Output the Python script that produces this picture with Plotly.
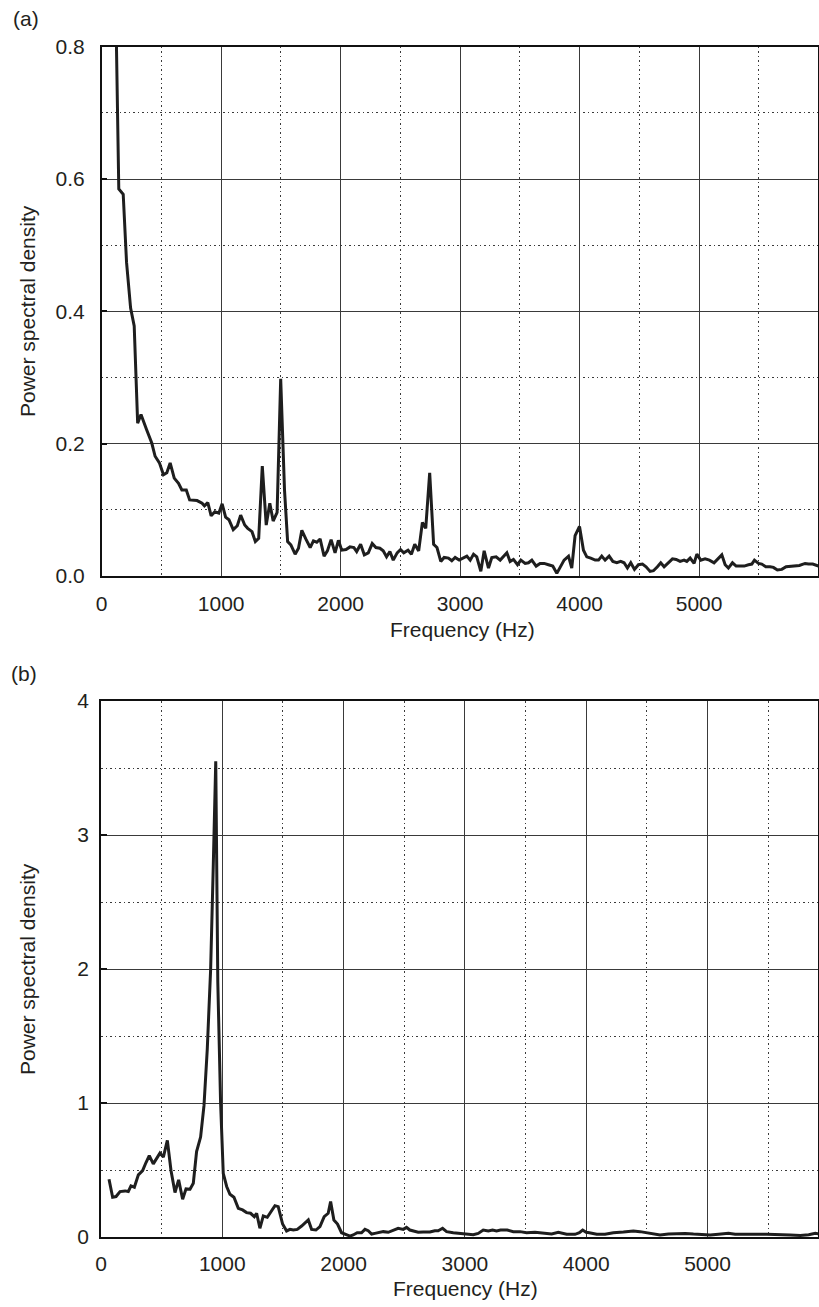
import plotly.graph_objects as go

# ---------------- Panel (a) data ----------------
a_freq = [110, 143, 180, 208, 242, 272, 301, 329, 376, 419, 447, 483, 517, 545, 573, 607, 643, 671, 708, 736,
          798, 840, 860, 888, 916, 947, 980, 1008, 1037, 1065, 1101, 1135, 1163, 1197, 1222, 1258, 1286, 1314,
          1344, 1377, 1407, 1435, 1468, 1498, 1530, 1556, 1583, 1619, 1647, 1675, 1708, 1745, 1772, 1800, 1828,
          1861, 1889, 1920, 1953, 1981, 2009, 2045, 2078, 2111, 2134, 2167, 2198, 2231, 2264, 2295, 2328, 2356,
          2384, 2412, 2440, 2473, 2501, 2528, 2564, 2592, 2620, 2653, 2684, 2712, 2745, 2778, 2806, 2838, 2866,
          2902, 2930, 2958, 2992, 3022, 3056, 3084, 3112, 3139, 3173, 3201, 3237, 3265, 3301, 3335, 3363, 3391,
          3418, 3446, 3480, 3508, 3544, 3572, 3600, 3636, 3669, 3703, 3739, 3775, 3809, 3837, 3870, 3907, 3934,
          3962, 3999, 4032, 4060, 4093, 4130, 4158, 4185, 4213, 4247, 4278, 4311, 4344, 4372, 4400, 4428, 4459,
          4492, 4526, 4556, 4590, 4618, 4651, 4679, 4707, 4743, 4777, 4808, 4841, 4874, 4897, 4925, 4958, 4981,
          5014, 5050, 5086, 5125, 5162, 5190, 5218, 5245, 5279, 5310, 5343, 5377, 5413, 5441, 5463, 5497, 5524,
          5558, 5594, 5622, 5655, 5692, 5728, 5767, 5803, 5839, 5887, 5915, 5951, 5999]
a_psd = [0.95, 0.585, 0.577, 0.474, 0.405, 0.378, 0.231, 0.244, 0.221, 0.201, 0.181, 0.171, 0.153, 0.156, 0.171,
         0.148, 0.140, 0.130, 0.130, 0.115, 0.114, 0.110, 0.106, 0.111, 0.091, 0.097, 0.095, 0.109, 0.089, 0.085,
         0.070, 0.076, 0.092, 0.077, 0.072, 0.067, 0.052, 0.057, 0.166, 0.077, 0.110, 0.083, 0.096, 0.298, 0.130,
         0.052, 0.047, 0.033, 0.042, 0.069, 0.056, 0.043, 0.053, 0.051, 0.056, 0.030, 0.038, 0.055, 0.035, 0.054,
         0.039, 0.040, 0.044, 0.043, 0.037, 0.048, 0.032, 0.035, 0.049, 0.043, 0.042, 0.038, 0.029, 0.037, 0.024,
         0.035, 0.040, 0.035, 0.039, 0.033, 0.048, 0.038, 0.081, 0.072, 0.156, 0.048, 0.043, 0.022, 0.028,
         0.027, 0.023, 0.028, 0.024, 0.027, 0.030, 0.024, 0.033, 0.029, 0.007, 0.038, 0.012, 0.028, 0.029, 0.024,
         0.029, 0.035, 0.022, 0.025, 0.017, 0.024, 0.019, 0.020, 0.024, 0.015, 0.019, 0.019, 0.017, 0.015, 0.004,
         0.013, 0.024, 0.030, 0.012, 0.061, 0.075, 0.039, 0.029, 0.027, 0.024, 0.024, 0.030, 0.024, 0.030, 0.022,
         0.020, 0.022, 0.020, 0.012, 0.020, 0.010, 0.017, 0.018, 0.014, 0.007, 0.008, 0.014, 0.020, 0.014, 0.020,
         0.026, 0.025, 0.022, 0.024, 0.022, 0.027, 0.019, 0.033, 0.024, 0.026, 0.024, 0.020, 0.027, 0.032, 0.017,
         0.012, 0.020, 0.015, 0.015, 0.015, 0.017, 0.018, 0.024, 0.019, 0.018, 0.014, 0.014, 0.013, 0.009, 0.010,
         0.014, 0.015, 0.015, 0.016, 0.019, 0.018, 0.018, 0.015]

# ---------------- Panel (b) data ----------------
b_freq = [66, 96, 124, 157, 198, 225, 247, 275, 308, 343, 371, 398, 431, 459, 486, 514, 547, 577, 610, 640, 673,
          701, 734, 761, 788, 821, 849, 876, 904, 925, 946, 963, 986, 1008, 1036, 1063, 1096, 1132, 1167, 1200,
          1233, 1264, 1283, 1310, 1338, 1371, 1406, 1434, 1461, 1497, 1530, 1558, 1585, 1618, 1654, 1709, 1736,
          1772, 1805, 1840, 1873, 1893, 1920, 1950, 1983, 2019, 2052, 2079, 2112, 2148, 2176, 2203, 2231, 2258,
          2294, 2327, 2368, 2409, 2450, 2492, 2519, 2546, 2574, 2615, 2656, 2711, 2752, 2780, 2816, 2849, 2904,
          2986, 3069, 3110, 3151, 3193, 3228, 3261, 3294, 3349, 3399, 3454, 3509, 3578, 3647, 3715, 3770, 3839,
          3908, 3944, 3971, 3999, 4026, 4087, 4155, 4224, 4307, 4389, 4444, 4499, 4554, 4609, 4678, 4747, 4816,
          4884, 4953, 5022, 5091, 5173, 5228, 5311, 5393, 5490, 5586, 5682, 5765, 5834, 5889, 5922]
b_psd = [0.431, 0.297, 0.302, 0.339, 0.344, 0.339, 0.382, 0.372, 0.464, 0.496, 0.556, 0.608, 0.546, 0.589,
         0.626, 0.596, 0.721, 0.496, 0.332, 0.426, 0.282, 0.359, 0.357, 0.401, 0.638, 0.746, 0.980, 1.40, 2.0,
         2.75, 3.55, 1.9, 1.0, 0.474, 0.377, 0.319, 0.297, 0.214, 0.202, 0.182, 0.177, 0.152, 0.177, 0.065,
         0.157, 0.147, 0.197, 0.234, 0.227, 0.097, 0.045, 0.057, 0.052, 0.057, 0.082, 0.127, 0.057, 0.052, 0.077,
         0.152, 0.177, 0.264, 0.127, 0.097, 0.032, 0.017, 0.007, 0.015, 0.032, 0.032, 0.057, 0.047, 0.022, 0.027,
         0.032, 0.040, 0.035, 0.052, 0.065, 0.057, 0.072, 0.052, 0.045, 0.035, 0.037, 0.037, 0.047, 0.047, 0.065,
         0.040, 0.032, 0.027, 0.017, 0.027, 0.052, 0.045, 0.052, 0.045, 0.052, 0.052, 0.040, 0.040, 0.032, 0.035,
         0.027, 0.022, 0.035, 0.020, 0.020, 0.032, 0.052, 0.035, 0.032, 0.020, 0.020, 0.032, 0.037, 0.045, 0.040,
         0.032, 0.022, 0.015, 0.022, 0.027, 0.027, 0.022, 0.020, 0.015, 0.020, 0.027, 0.020, 0.022, 0.020, 0.020,
         0.015, 0.015, 0.012, 0.017, 0.027, 0.022]

a_yticks = [0.0, 0.2, 0.4, 0.6, 0.8]
b_yticks = [0, 1, 2, 3, 4]
x_ticks = [0, 1000, 2000, 3000, 4000, 5000]

W, H = 819, 1307
FONT = "Liberation Sans, Arial, Helvetica, sans-serif"
TXT = "#231f20"
GRID = "#3a3a3a"
FS = 21

fig = go.Figure()
fig.add_trace(go.Scatter(x=a_freq, y=a_psd, mode="lines", xaxis="x", yaxis="y",
                         line=dict(color="#1e1e1e", width=3), showlegend=False))
fig.add_trace(go.Scatter(x=b_freq, y=b_psd, mode="lines", xaxis="x2", yaxis="y2",
                         line=dict(color="#1e1e1e", width=3), showlegend=False))


def xax(domain, rng, anchor, standoff):
    return dict(domain=domain, range=rng, anchor=anchor, automargin=False, tickmode="array",
                tickvals=x_ticks, ticktext=[str(v) for v in x_ticks],
                showgrid=True, gridcolor=GRID, gridwidth=1,
                minor=dict(dtick=500, tick0=0, showgrid=True, gridcolor=GRID, gridwidth=1,
                           griddash="1.5px,3px"),
                showline=True, linecolor="#111", linewidth=1.5, mirror=True, zeroline=False,
                ticks="", ticklabelstandoff=standoff, tickfont=dict(family=FONT, size=FS, color=TXT))


def yax(domain, rng, anchor, vals, texts, minor_dtick, standoff):
    return dict(domain=domain, range=rng, anchor=anchor, automargin=False, tickmode="array",
                tickvals=vals, ticktext=texts,
                showgrid=True, gridcolor=GRID, gridwidth=1,
                minor=dict(dtick=minor_dtick, tick0=0, showgrid=True, gridcolor=GRID, gridwidth=1,
                           griddash="1.5px,3px"),
                showline=True, linecolor="#111", linewidth=1.5, mirror=True, zeroline=False,
                ticks="inside", ticklen=6, tickcolor="#111", tickwidth=1.5,
                ticklabelstandoff=standoff, tickfont=dict(family=FONT, size=FS, color=TXT))


fig.update_layout(
    width=W, height=H, margin=dict(l=0, r=0, t=0, b=0, autoexpand=False),
    paper_bgcolor="white", plot_bgcolor="white",
    xaxis=xax([101.7 / W, 818 / W], [0, 5995], "y", 8),
    yaxis=yax([1 - 576 / H, 1 - 46.7 / H], [0, 0.8], "x", a_yticks,
              [f"{v:.1f}" for v in a_yticks], 0.1, 11),
    xaxis2=xax([101 / W, 818 / W], [0, 5911], "y2", 7),
    yaxis2=yax([1 - 1237 / H, 1 - 701 / H], [0, 4], "x2", b_yticks,
               [str(v) for v in b_yticks], 0.5, 6),
)

ann_font = dict(family=FONT, size=FS, color=TXT)
anns = [
    dict(text="(a)", x=11 / W, y=1 - 19 / H, xanchor="left", yanchor="middle"),
    dict(text="(b)", x=9 / W, y=1 - 673 / H, xanchor="left", yanchor="middle"),
    dict(text="Frequency (Hz)", x=462 / W, y=1 - 629 / H, xanchor="center", yanchor="middle"),
    dict(text="Frequency (Hz)", x=465 / W, y=1 - 1288 / H, xanchor="center", yanchor="middle"),
    dict(text="Power spectral density", x=27 / W, y=1 - 311 / H, xanchor="center", yanchor="middle",
         textangle=-90),
    dict(text="Power spectral density", x=27 / W, y=1 - 969 / H, xanchor="center", yanchor="middle",
         textangle=-90),
]
for a in anns:
    fig.add_annotation(xref="paper", yref="paper", showarrow=False, font=ann_font, **a)

fig.write_html("out.html")
